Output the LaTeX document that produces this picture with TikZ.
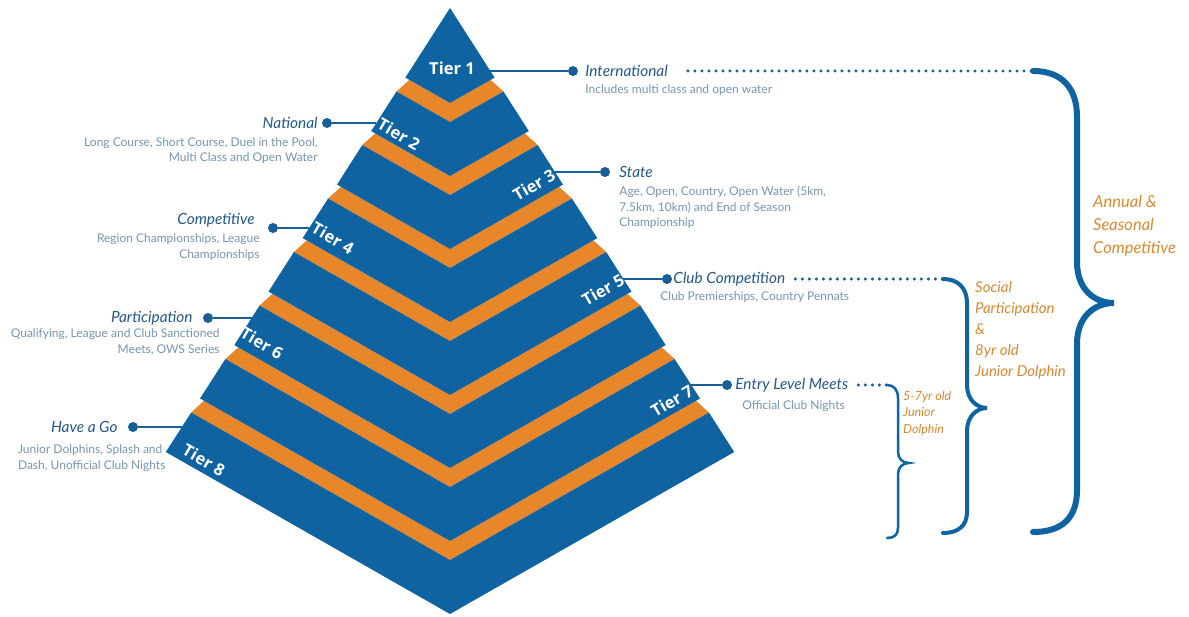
\documentclass[tikz,border=0pt]{standalone}
\usepackage{fontspec}
\setmainfont{Lato}
\newfontfamily\tierfont{Open Sans}
\usetikzlibrary{positioning}

\definecolor{pyrblue}{RGB}{15,99,160}
\definecolor{pyrorange}{RGB}{232,135,42}
\definecolor{lblblue}{RGB}{38,88,135}
\definecolor{descgrey}{RGB}{118,150,178}
\definecolor{linkblue}{RGB}{25,95,150}
\definecolor{bracetext}{RGB}{214,138,52}

\begin{document}
\begin{tikzpicture} [ x=1pt, y=-1pt
                    , tier/.style={fill=pyrblue}
                    , band/.style={fill=pyrorange}
                    , tierlbl/.style={text=white, inner sep=0pt, font=\tierfont\bfseries\fontsize{16.5}{16.5}\selectfont}
                    , linkdot/.style={circle, fill=linkblue, inner sep=0pt, minimum size=10pt}
                    , link/.style={draw=linkblue, line width=2pt}
                    , dotline/.style={draw=linkblue, line width=3.4pt, line cap=round, dash pattern=on 0pt off 7pt}
                    , lbl/.style={text=lblblue, inner sep=0pt, font=\itshape\fontsize{15.4}{18}\selectfont}
                    , desc/.style={text=descgrey, inner sep=0pt, font=\fontsize{12}{15.5}\selectfont}
                    , grouptext/.style={text=bracetext, inner sep=0pt, align=left}
                    , bracepath/.style={draw=pyrblue, line cap=round}
                    ]

  \fill [white] (0,0) rectangle (1189,617);
  \useasboundingbox (0,0) rectangle (1189,617);

  % --- Orange bands ----------------------------------------------------------
  \fill [band] (409.4,79.9) -- (450,103) -- (490.6,79.9) -- (503.5,91.5) -- (450,122) -- (396.5,91.5) -- cycle;
  \fill [band] (375.2,133.4) -- (450,176) -- (524.8,133.4) -- (537.7,145.0) -- (450,195) -- (362.3,145.0) -- cycle;
  \fill [band] (341.0,186.9) -- (450,249) -- (559.0,186.9) -- (571.9,198.5) -- (450,268) -- (328.1,198.5) -- cycle;
  \fill [band] (306.8,240.4) -- (450,322) -- (593.3,240.4) -- (606.2,252.0) -- (450,341) -- (293.9,252.0) -- cycle;
  \fill [band] (272.5,293.9) -- (450,395) -- (627.5,293.9) -- (640.4,305.5) -- (450,414) -- (259.6,305.5) -- cycle;
  \fill [band] (238.3,347.4) -- (450,468) -- (661.7,347.4) -- (674.6,359.0) -- (450,487) -- (225.4,359.0) -- cycle;
  \fill [band] (204.0,400.8) -- (450,541) -- (696.0,400.8) -- (708.9,412.5) -- (450,560) -- (191.2,412.5) -- cycle;
  % ---------------------------------------------------------------------------

  % --- Tiers -----------------------------------------------------------------
  \fill [tier] (450,8) -- (494.6,77.6) -- (450,103) -- (405.4,77.6) -- cycle;
  \fill [tier] (396.5,91.5) -- (450,122) -- (503.5,91.5) -- (528.8,131.1) -- (450,176) -- (371.2,131.1) -- cycle;
  \fill [tier] (362.3,145.0) -- (450,195) -- (537.7,145.0) -- (563.0,184.6) -- (450,249) -- (337.0,184.6) -- cycle;
  \fill [tier] (328.1,198.5) -- (450,268) -- (571.9,198.5) -- (597.3,238.1) -- (450,322) -- (302.7,238.1) -- cycle;
  \fill [tier] (293.9,252.0) -- (450,341) -- (606.2,252.0) -- (631.5,291.6) -- (450,395) -- (268.5,291.6) -- cycle;
  \fill [tier] (259.6,305.5) -- (450,414) -- (640.4,305.5) -- (665.7,345.1) -- (450,468) -- (234.3,345.1) -- cycle;
  \fill [tier] (225.4,359.0) -- (450,487) -- (674.6,359.0) -- (700.0,398.5) -- (450,541) -- (200.0,398.5) -- cycle;
  \fill [tier] (191.2,412.5) -- (450,560) -- (708.9,412.5) -- (734.2,452.0) -- (450,614) -- (165.8,452.0) -- cycle;

  \node [tierlbl] (T1) at (452,68) {Tier 1};
  \node [tierlbl, rotate=-30] (T2) at (399,134) {Tier 2};
  \node [tierlbl, rotate=30] (T3) at (534,185) {Tier 3};
  \node [tierlbl, rotate=-30] (T4) at (333,238) {Tier 4};
  \node [tierlbl, rotate=30] (T5) at (603,290) {Tier 5};
  \node [tierlbl, rotate=-30] (T6) at (262,343) {Tier 6};
  \node [tierlbl, rotate=30] (T7) at (672,401) {Tier 7};
  \node [tierlbl, rotate=-30] (T8) at (204,460) {Tier 8};
  % ---------------------------------------------------------------------------

  % --- Right labels ----------------------------------------------------------
  \coordinate (e1) at (489.7,71);
  \node [linkdot] (d1) at (573,71) {};
  \node [ lbl
        , right=7pt of d1
        ]
        (Intl) {International};
  \node [ desc
        , anchor=north west
        ]
        (IntlDesc) at ([yshift=-8pt]Intl.base west) {Includes multi class and open water};

  \coordinate (e3) at (555,172);
  \node [linkdot] (d3) at (605,172) {};
  \node [ lbl
        , right=9pt of d3
        ]
        (State) {State};
  \node [ desc
        , align=left
        , anchor=north west
        ]
        (StateDesc) at ([yshift=-8.6pt]State.base west) {Age, Open, Country, Open Water (5km,\\7.5km, 10km) and End of Season\\Championship};

  \coordinate (e5) at (622.8,279);
  \node [linkdot] (d5) at (667,279) {};
  \node [ lbl
        , right=1pt of d5
        ]
        (Club) {Club Competition};
  \node [ desc
        , anchor=north west
        ]
        (ClubDesc) at ([xshift=-13pt, yshift=-8.6pt]Club.base west) {Club Premierships, Country Pennats};

  \coordinate (e7) at (690.9,385);
  \node [linkdot] (d7) at (727,385) {};
  \node [ lbl
        , right=3pt of d7
        ]
        (Entry) {Entry Level Meets};
  \node [ desc
        , anchor=north west
        ]
        (EntryDesc) at ([xshift=7pt, yshift=-11.6pt]Entry.base west) {Official Club Nights};
  % ---------------------------------------------------------------------------

  % --- Left labels -----------------------------------------------------------
  \coordinate (e2) at (376.4,123);
  \node [linkdot] (d2) at (327,123) {};
  \node [ lbl
        , left=4pt of d2
        ]
        (National) {National};
  \node [ desc
        , align=right
        , anchor=north east
        ]
        (NationalDesc) at ([yshift=-8.6pt]National.base east) {Long Course, Short Course, Duel in the Pool,\\Multi Class and Open Water};

  \coordinate (e4) at (309.2,228);
  \node [linkdot] (d4) at (273,228) {};
  \node [ lbl
        , left=13pt of d4
        , yshift=8pt
        ]
        (Comp) {Competitive};
  \node [ desc
        , align=right
        , anchor=north east
        ]
        (CompDesc) at ([xshift=5pt, yshift=-9.6pt]Comp.base east) {Region Championships, League\\Championships};

  \coordinate (e6) at (251.6,318);
  \node [linkdot] (d6) at (208,318) {};
  \node [ lbl
        , left=10pt of d6
        ]
        (Part) {Participation};
  \node [ desc
        , align=right
        , anchor=north east
        ]
        (PartDesc) at ([xshift=27pt, yshift=-6.6pt]Part.base east) {Qualifying, League and Club Sanctioned\\Meets, OWS Series};

  \coordinate (e8) at (181.9,427);
  \node [linkdot] (d8) at (133,427) {};
  \node [ lbl
        , left=10pt of d8
        ]
        (HaveGo) {Have a Go};
  \node [ desc
        , align=left
        , anchor=north west
        ]
        (HaveGoDesc) at ([xshift=-33pt, yshift=-12pt]HaveGo.base west) {Junior Dolphins, Splash and\\Dash, Unofficial Club Nights};
  % ---------------------------------------------------------------------------

  % --- Connectors ------------------------------------------------------------
  \draw [link] (e1) -- (d1);
  \draw [link] (e3) -- (d3);
  \draw [link] (e5) -- (d5);
  \draw [link] (e7) -- (d7);
  \draw [link] (e2) -- (d2);
  \draw [link] (e4) -- (d4);
  \draw [link] (e6) -- (d6);
  \draw [link] (e8) -- (d8);
  % ---------------------------------------------------------------------------

  % --- Braces ----------------------------------------------------------------
  \coordinate (BigTop) at (1033,71);
  \coordinate (MidTop) at (943,279);
  \coordinate (SmallTop) at (887,385);

  \draw [dotline] ([xshift=20pt]Intl.east) -- (BigTop);
  \draw [dotline] ([xshift=10pt]Club.east) -- (MidTop);
  \draw [dotline] ([xshift=10pt]Entry.east) -- (SmallTop);

  \draw [bracepath, line width=6pt] (BigTop) .. controls (1062,71) and (1077,88) .. (1077,117)
        -- (1077,262) .. controls (1077,290) and (1095,303) .. (1114,303)
        .. controls (1095,303) and (1077,316) .. (1077,344)
        -- (1077,490) .. controls (1077,518) and (1062,532) .. (1033,532);
  \draw [bracepath, line width=4pt] (MidTop) .. controls (958,279) and (967,288) .. (967,303)
        -- (967,385) .. controls (967,400) and (977,408) .. (987,408)
        .. controls (977,408) and (967,416) .. (967,431)
        -- (967,512) .. controls (967,526) and (958,533) .. (943,533);
  \draw [bracepath, line width=2.5pt] (SmallTop) .. controls (894,385) and (898,390) .. (898,398)
        -- (898,452) .. controls (898,459) and (903,463) .. (909,463)
        .. controls (903,463) and (898,467) .. (898,474)
        -- (898,528) .. controls (898,535) and (894,538) .. (887,538);

  \node [ grouptext
        , font=\itshape\fontsize{16.5}{23}\selectfont
        , anchor=west
        ]
        (Annual) at (1093,226) {Annual \&\\Seasonal\\Competitive};

  \node [ grouptext
        , font=\itshape\fontsize{15}{21}\selectfont
        , anchor=west
        ]
        (Social) at (975,330) {Social\\Participation\\\&\\8yr old\\Junior Dolphin};

  \node [ grouptext
        , font=\itshape\fontsize{12.5}{16.5}\selectfont
        , anchor=west
        ]
        (Junior) at (903,413) {5-7yr old\\Junior\\Dolphin};
  % ---------------------------------------------------------------------------
\end{tikzpicture}
\end{document}
